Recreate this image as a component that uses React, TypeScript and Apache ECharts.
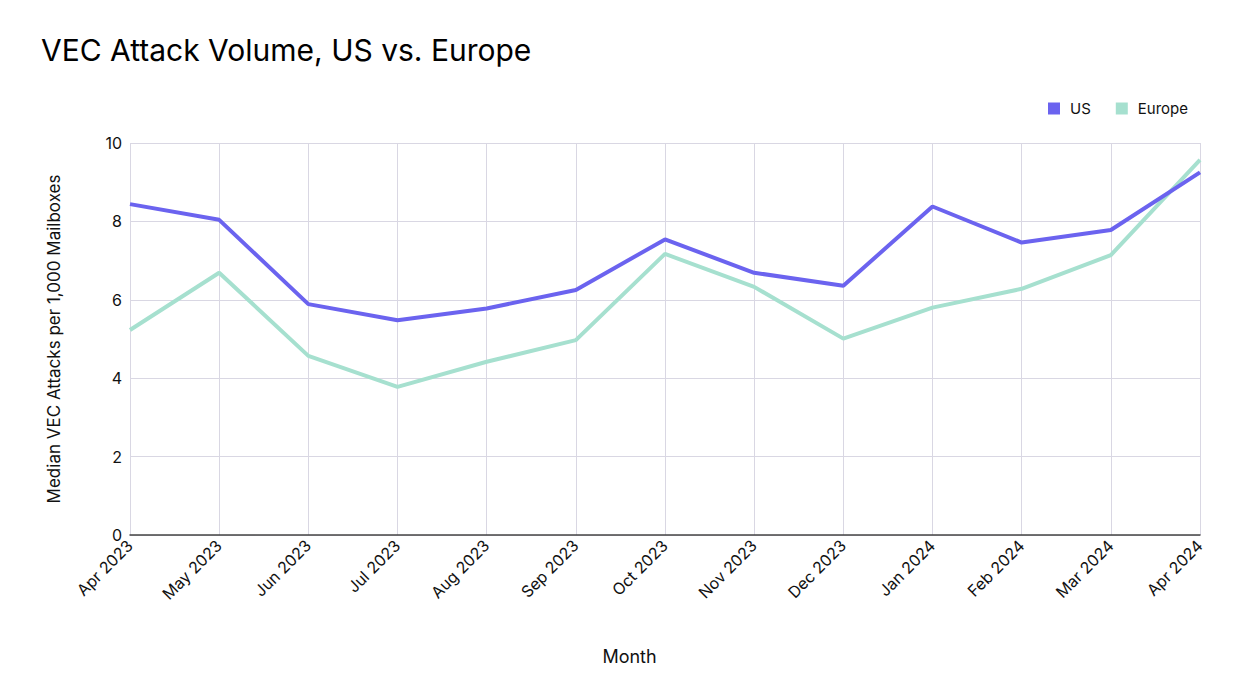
import React, { useEffect, useRef } from "react";
import * as echarts from "echarts";

const months = [
  "Apr 2023", "May 2023", "Jun 2023", "Jul 2023", "Aug 2023", "Sep 2023",
  "Oct 2023", "Nov 2023", "Dec 2023", "Jan 2024", "Feb 2024", "Mar 2024", "Apr 2024",
];
const usValues = [8.44, 8.04, 5.89, 5.48, 5.78, 6.25, 7.54, 6.69, 6.36, 8.38, 7.46, 7.78, 9.25];
const europeValues = [5.23, 6.69, 4.57, 3.78, 4.42, 4.97, 7.17, 6.33, 5.01, 5.8, 6.28, 7.14, 9.57];
const yTicks = { min: 0, max: 10, interval: 2 };

const FONT = "Inter, 'Liberation Sans', sans-serif";

export default function App() {
  const ref = useRef<HTMLDivElement>(null);
  useEffect(() => {
    if (!ref.current) return;
    const chart = echarts.init(ref.current, null, { renderer: "svg" });
    chart.setOption({
      animation: false,
      backgroundColor: "#ffffff",
      textStyle: { fontFamily: FONT },
      title: {
        text: "VEC Attack Volume, US vs. Europe",
        left: 36,
        top: 30,
        textStyle: { fontFamily: FONT, fontSize: 30, fontWeight: 400, color: "#000000" },
      },
      legend: {
        right: 66,
        top: 96,
        itemWidth: 12,
        itemHeight: 12,
        itemGap: 25,
        icon: "rect",
        textStyle: { fontFamily: FONT, fontSize: 15, color: "#111111", padding: [0, 0, 0, 5] },
        data: ["US", "Europe"],
      },
      graphic: [
        {
          type: "text",
          left: "center",
          top: 647,
          style: { text: "Month", fontFamily: FONT, fontSize: 18, fill: "#111111" },
        },
      ],
      grid: { left: 130, right: 59, top: 143, bottom: 163 },
      xAxis: {
        type: "category",
        data: months,
        boundaryGap: false,
        axisLine: { show: true, lineStyle: { color: "#444444", width: 1.5 } },
        axisTick: { show: false },
        axisLabel: {
          rotate: 45,
          margin: 8,
          fontFamily: FONT,
          fontSize: 16,
          color: "#111111",
        },
        splitLine: { show: true, lineStyle: { color: "#d9d7e3", width: 1 } },
      },
      yAxis: {
        type: "value",
        min: yTicks.min,
        max: yTicks.max,
        interval: yTicks.interval,
        name: "Median VEC Attacks per 1,000 Mailboxes",
        nameLocation: "middle",
        nameGap: 68,
        nameTextStyle: { fontFamily: FONT, fontSize: 17, color: "#111111" },
        axisLine: { show: false },
        axisTick: { show: false },
        axisLabel: { margin: 8, fontFamily: FONT, fontSize: 16, color: "#111111" },
        splitLine: { show: true, lineStyle: { color: "#d9d7e3", width: 1 } },
      },
      series: [
        {
          name: "US",
          type: "line",
          data: usValues,
          symbol: "none",
          lineStyle: { color: "#6b63ef", width: 4 },
          itemStyle: { color: "#6b63ef" },
          z: 3,
        },
        {
          name: "Europe",
          type: "line",
          data: europeValues,
          symbol: "none",
          lineStyle: { color: "#a6e0cf", width: 4 },
          itemStyle: { color: "#a6e0cf" },
          z: 2,
        },
      ],
    });
    return () => chart.dispose();
  }, []);
  return (
    <div
      ref={ref}
      style={{ position: "fixed", left: 0, top: 0, width: 1259, height: 698 }}
    />
  );
}
